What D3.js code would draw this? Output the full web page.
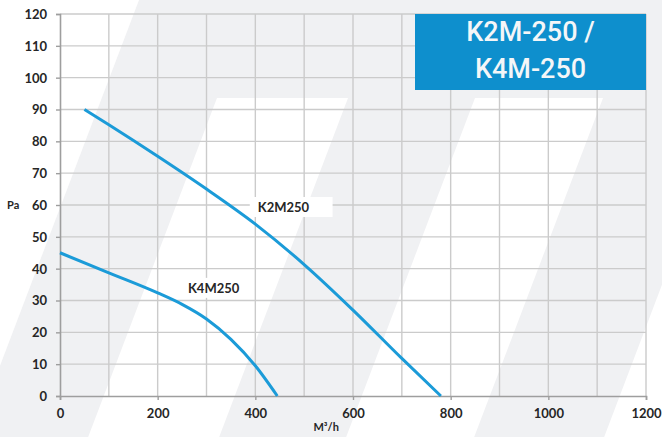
<!DOCTYPE html>
<html><head><meta charset="utf-8">
<script src="https://cdn.jsdelivr.net/npm/d3@7"></script>
<style>
html,body{margin:0;padding:0;background:#f0f1f3;}
svg{display:block;}
</style></head>
<body>
<svg id="c" width="662" height="437"></svg>
<script>
// ---- data ----
const titleLines = ["K2M-250 /", "K4M-250"];
const xLabel = "M³/h";
const yLabel = "Pa";
const xTickValues = [0, 200, 400, 600, 800, 1000, 1200];
const xGridValues = [0, 100, 200, 300, 400, 500, 600, 700, 800, 900, 1000, 1100, 1200];
const yTickValues = [0, 10, 20, 30, 40, 50, 60, 70, 80, 90, 100, 110, 120];
const k2mFlow = [50, 100, 200, 300, 400, 500, 600, 700, 780];
const k2mPressure = [90, 85.2, 75.3, 65, 54, 41.3, 27, 11.8, 0];
const k4mFlow = [0, 100, 200, 250, 300, 350, 400, 445];
const k4mPressure = [45, 38.7, 32.4, 28.8, 24.2, 17.8, 9.5, 0];
const seriesNames = ["K2M250", "K4M250"];
const labelAnchors = [[405, 57.8], [262, 32.4]]; // [flow, pressure] start/baseline of series labels

// ---- layout ----
const W = 662, H = 437;
const m = {left: 60, right: 16, top: 14, bottom: 41};
const svg = d3.select("#c");

// background watermark bands
const bg = svg.append("g");
bg.append("rect").attr("width", W).attr("height", H).attr("fill", "#f0f1f3");
const s = 0.38;
const bands = [
  [[0,0],[139,0],[0,139/s]],
  [[217,98],[348,98],[348-s*339,437],[217-s*339,437]],
  [[475,98],[603,98],[603-s*339,437],[475-s*339,437]],
  [[733,98],[862,98],[862-s*339,437],[733-s*339,437]]
];
bg.selectAll("polygon").data(bands).join("polygon")
  .attr("points", d => d.map(p => p.join(",")).join(" "))
  .attr("fill", "#ffffff");

const x = d3.scaleLinear().domain([0, 1200]).range([m.left, W - m.right]);
const y = d3.scaleLinear().domain([0, 120]).range([H - m.bottom, m.top]);

// grid
const g = svg.append("g");
g.selectAll("line.vg").data(xGridValues.filter(v => v > 0)).join("line")
  .attr("class", "vg")
  .attr("x1", d => x(d)).attr("x2", d => x(d))
  .attr("y1", y(0)).attr("y2", y(120))
  .attr("stroke", "#cbcbcb").attr("stroke-width", 1.4);
g.selectAll("line.hg").data(yTickValues.filter(v => v > 0)).join("line")
  .attr("class", "hg")
  .attr("x1", x(0)).attr("x2", x(1200))
  .attr("y1", d => y(d)).attr("y2", d => y(d))
  .attr("stroke", "#cbcbcb").attr("stroke-width", 1.4);

// axes
const xAxis = d3.axisBottom(x).tickValues(xTickValues).tickFormat(d3.format("d")).tickSize(4).tickPadding(9);
const yAxis = d3.axisLeft(y).tickValues(yTickValues).tickFormat(d3.format("d")).tickSize(4).tickPadding(9);
const gx = svg.append("g").attr("transform", `translate(0,${y(0)})`).call(xAxis);
const gy = svg.append("g").attr("transform", `translate(${x(0)},0)`).call(yAxis);
[gx, gy].forEach(a => {
  a.select(".domain").attr("stroke", "#9e9e9e").attr("stroke-width", 1.6);
  a.selectAll(".tick line").attr("stroke", "#9e9e9e").attr("stroke-width", 1.4);
  a.selectAll(".tick text").attr("fill", "#262626")
    .style("font-family", "Lato, 'Open Sans', sans-serif")
    .style("font-weight", "700").style("font-size", "13px");
});
gy.selectAll(".tick text").attr("dy", "0.34em");

// title box
const bx0 = 415, bx1 = 646, by0 = 14, by1 = 90;
svg.append("rect").attr("x", bx0).attr("y", by0).attr("width", bx1 - bx0).attr("height", by1 - by0)
  .attr("fill", "#0e8fcd");
svg.selectAll("text.title").data(titleLines).join("text")
  .attr("class", "title")
  .attr("x", (bx0 + bx1) / 2).attr("y", (d, i) => 41 + i * 37)
  .attr("text-anchor", "middle").attr("fill", "#f4f6f8")
  .style("font-family", "Roboto, sans-serif").style("font-weight", "500").style("font-size", "27px")
  .text(d => d);

// curves
const line = d3.line().x(d => x(d[0])).y(d => y(d[1])).curve(d3.curveMonotoneX);
const series = [d3.zip(k2mFlow, k2mPressure), d3.zip(k4mFlow, k4mPressure)];
svg.selectAll("path.curve").data(series).join("path")
  .attr("class", "curve")
  .attr("d", line).attr("fill", "none")
  .attr("stroke", "#1b9bd8").attr("stroke-width", 3).attr("stroke-linecap", "butt");

// series labels
const lab = svg.append("g");
seriesNames.forEach((name, i) => {
  const [fx, fp] = labelAnchors[i];
  const t = lab.append("text")
    .attr("x", x(fx)).attr("y", y(fp))
    .attr("fill", "#262626")
    .style("font-family", "Lato, 'Open Sans', sans-serif")
    .style("font-weight", "700").style("font-size", "13px")
    .text(name);
  const b = t.node().getBBox();
  lab.insert("rect", "text")
    .attr("x", b.x - (i === 0 ? 8 : 3)).attr("y", b.y - 2)
    .attr("width", b.width + (i === 0 ? 31 : 6)).attr("height", b.height + 4)
    .attr("fill", "#ffffff");
});

// axis titles
svg.append("text").attr("x", 7).attr("y", y(60) + 4)
  .attr("fill", "#262626")
  .style("font-family", "Lato, 'Open Sans', sans-serif").style("font-weight", "700").style("font-size", "11px")
  .text(yLabel);
svg.append("text").attr("x", x(545)).attr("y", 431)
  .attr("text-anchor", "middle").attr("fill", "#262626")
  .style("font-family", "Lato, 'Open Sans', sans-serif").style("font-weight", "700").style("font-size", "11px")
  .text(xLabel);
</script>
</body></html>
